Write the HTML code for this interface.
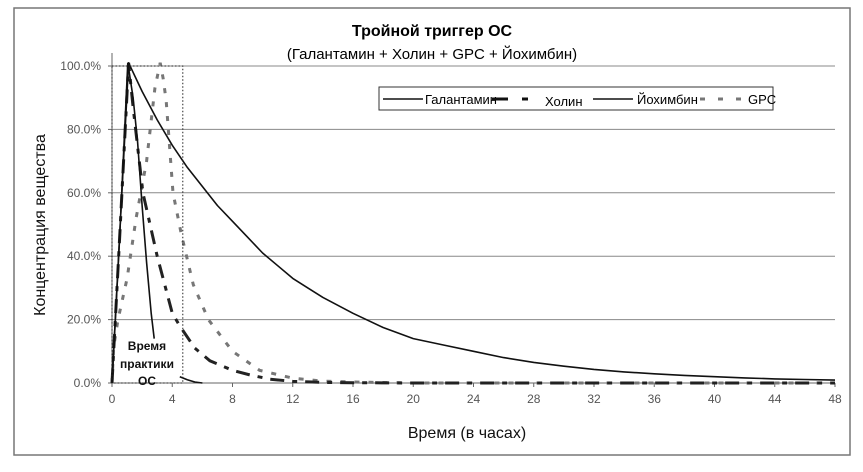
<!DOCTYPE html>
<html><head><meta charset="utf-8"><style>
html,body{margin:0;padding:0;background:#fff;}
svg{display:block;font-family:"Liberation Sans",Arial,sans-serif;}
</style></head><body>
<svg id="chart" width="863" height="472" viewBox="0 0 863 472">
<rect x="14" y="8" width="836" height="447" fill="#fff" stroke="#777" stroke-width="1.5"/>
<text x="432" y="36" text-anchor="middle" font-size="16" font-weight="bold" fill="#000">Тройной триггер ОС</text>
<text x="432" y="59" text-anchor="middle" font-size="15" fill="#000">(Галантамин + Холин + GPC + Йохимбин)</text>
<g id="grid"></g>
<g id="axes"></g>
<g id="series"></g>
<rect x="112" y="66" width="70.8" height="317" fill="none" stroke="#222" stroke-width="1" stroke-dasharray="1.5,2"/>
<g font-size="12" font-weight="bold" text-anchor="middle" fill="#111">
<text x="147" y="350">Время</text><text x="147" y="368">практики</text><text x="147" y="385">ОС</text>
</g>
<text transform="translate(45,225) rotate(-90)" text-anchor="middle" font-size="16" fill="#111">Концентрация вещества</text>
<text x="467" y="438" text-anchor="middle" font-size="16" fill="#111">Время (в часах)</text>
<g>
<rect x="379" y="87" width="394" height="23" fill="#fff" stroke="#333" stroke-width="1"/>
<line x1="383" y1="99" x2="423" y2="99" stroke="#111" stroke-width="1.5"/>
<text x="425" y="104" font-size="13">Галантамин</text>
<line x1="492" y1="99" x2="542" y2="99" stroke="#111" stroke-width="3" stroke-dasharray="16,14,6,14"/>
<text x="545" y="106" font-size="13">Холин</text>
<line x1="593" y1="99" x2="633" y2="99" stroke="#111" stroke-width="1.5"/>
<text x="637" y="104" font-size="13">Йохимбин</text>
<line x1="700" y1="99" x2="748" y2="99" stroke="#777" stroke-width="3" stroke-dasharray="5,13"/>
<text x="748" y="104" font-size="13">GPC</text>
</g>
</svg>
<script>
const xTicks = [0,4,8,12,16,20,24,28,32,36,40,44,48];
const yTicks = [0,20,40,60,80,100];
const yTickLabels = ["0.0%","20.0%","40.0%","60.0%","80.0%","100.0%"];
const galHours = [0,1.1,2,3,4,5,6,7,8,9,10,11,12,13,14,16,18,20,22,24,26,28,30,32,34,36,38,40,42,44,46,48];
const galValues = [0,101,92,83,75,68,62,56,51,46,41,37,33,30,27,22,17.5,14,12,10,8,6.5,5.3,4.3,3.5,2.9,2.4,2,1.6,1.3,1.1,0.9];
const holHours = [0,0.5,1.1,1.4,2.05,3,4,4.5,5.5,6.5,8,9.2,10.5,12,14,16,20,24,28,32,36,40,44,48];
const holValues = [0,45,101,87,60,40,22,18,11,7,4,2.5,1.2,0.5,0.2,0.1,0,0,0,0,0,0,0,0];
const yohHours1 = [0,0.5,1.05,1.4,1.7,2.0,2.3,2.6,2.8];
const yohValues1 = [0,45,101,90,76,56,38,22,14];
const yohHours2 = [4.5,5,5.5,6];
const yohValues2 = [2,1,0.3,0];
const gpcHours = [0,0.1,0.4,1,1.6,2.3,2.85,3.2,3.4,3.6,4.05,4.6,5.4,6.4,8,9.8,12,14,16,20,24,28,32,36,40,44,48];
const gpcValues = [0,11,20,33,52,70,93,101,96,89,60,47,31,20,10,4,1.5,0.6,0.3,0,0,0,0,0,0,0,0];

const X0=112, X1=835, Y0=383, Y1=66;
function xs(h){return X0+(X1-X0)*h/48;}
function ys(v){return Y0-(Y0-Y1)*v/100;}
const NS="http://www.w3.org/2000/svg";
function mk(tag,attrs,parent){const e=document.createElementNS(NS,tag);for(const k in attrs)e.setAttribute(k,attrs[k]);parent.appendChild(e);return e;}
const grid=document.getElementById('grid'), axes=document.getElementById('axes'), series=document.getElementById('series');
yTicks.forEach((v,i)=>{
  if(v>0){const l=mk('line',{x1:X0,x2:X1,y1:ys(v),y2:ys(v),stroke:'#888','stroke-width':1},grid);
  
  }
  const t=mk('line',{x1:X0-4,x2:X0,y1:ys(v),y2:ys(v),stroke:'#666'},axes);
  
  
  const tx=mk('text',{x:X0-11,y:ys(v)+4,'text-anchor':'end','font-size':12,fill:'#555'},axes);
  tx.textContent=yTickLabels[i];
  
  
});
xTicks.forEach(h=>{
  const t=mk('line',{x1:xs(h),x2:xs(h),y1:Y0,y2:Y0+4,stroke:'#666'},axes);
  
  
  const tx=mk('text',{x:xs(h),y:Y0+20,'text-anchor':'middle','font-size':12,fill:'#555'},axes);
  tx.textContent=String(h);
  
  
});
const ya=mk('line',{x1:X0,x2:X0,y1:53,y2:Y0,stroke:'#666'},axes);


const xa=mk('line',{x1:X0,x2:X1,y1:Y0,y2:Y0,stroke:'#666'},axes);


function path(hs,vs){return hs.map((h,i)=>(i?'L':'M')+xs(h).toFixed(1)+','+ys(vs[i]).toFixed(1)).join(' ');}
const pg=mk('path',{d:path(gpcHours,gpcValues),fill:'none',stroke:'#777','stroke-width':3,'stroke-dasharray':'5,9'},series);


const ph=mk('path',{d:path(holHours,holValues),fill:'none',stroke:'#222','stroke-width':3,'stroke-dasharray':'14,8,5,8'},series);


const pgal=mk('path',{d:path(galHours,galValues),fill:'none',stroke:'#111','stroke-width':1.6,'stroke-linejoin':'round'},series);


const py1=mk('path',{d:path(yohHours1,yohValues1),fill:'none',stroke:'#111','stroke-width':1.6},series);


const py2=mk('path',{d:path(yohHours2,yohValues2),fill:'none',stroke:'#111','stroke-width':1.6},series);


</script>
</body></html>
